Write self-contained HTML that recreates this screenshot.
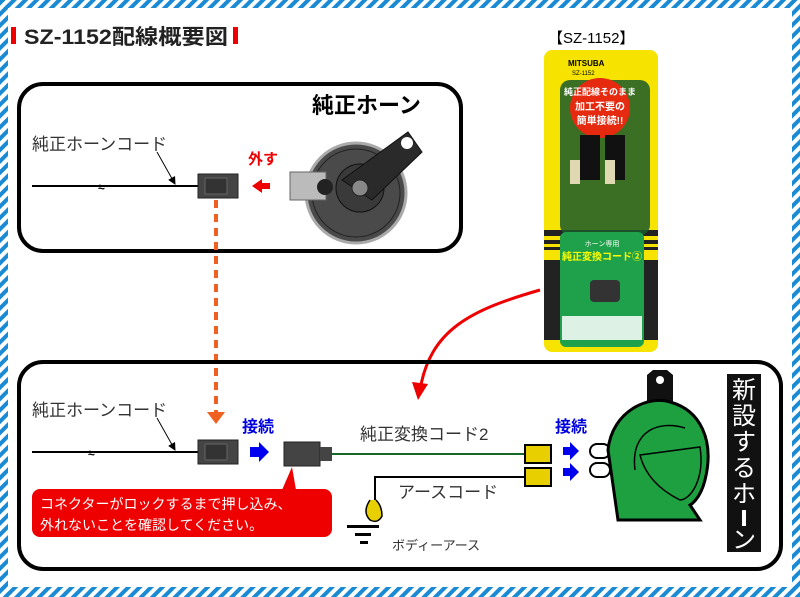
<!DOCTYPE html>
<html><head><meta charset="utf-8"><style>
html,body{margin:0;padding:0;width:800px;height:597px;overflow:hidden;background:#fff}
svg{display:block}
text{font-family:"Liberation Sans","Noto Sans CJK JP",sans-serif}
</style></head><body>
<svg width="800" height="597" viewBox="0 0 800 597" xmlns="http://www.w3.org/2000/svg">
<defs>
<pattern id="st" width="8" height="8" patternUnits="userSpaceOnUse" patternTransform="rotate(45)">
<rect width="4" height="8" fill="#1a8ad4"/></pattern>
<marker id="ar" markerWidth="8" markerHeight="8" refX="7" refY="4" orient="auto" markerUnits="userSpaceOnUse"><path d="M0,0 L8,4 L0,8z" fill="#000"/></marker>
</defs>
<rect x="0" y="0" width="800" height="8" fill="url(#st)"/>
<rect x="0" y="587" width="800" height="10" fill="url(#st)"/>
<rect x="0" y="0" width="8" height="597" fill="url(#st)"/>
<rect x="792" y="0" width="8" height="597" fill="url(#st)"/>

<rect x="11" y="27" width="5" height="17" fill="#e00"/>
<text x="24" y="44" font-size="21" font-weight="bold" fill="#222" textLength="204" lengthAdjust="spacingAndGlyphs">SZ-1152配線概要図</text>
<rect x="233" y="27" width="5" height="17" fill="#e00"/>

<!-- top box -->
<rect x="19" y="84" width="442" height="167" rx="24" fill="none" stroke="#000" stroke-width="4"/>
<text x="312" y="113" font-size="22" font-weight="bold">純正ホーン</text>
<text x="32" y="150" font-size="17" fill="#333">純正ホーンコード</text>
<line x1="32" y1="186" x2="198" y2="186" stroke="#000" stroke-width="2"/>
<text x="98" y="191" font-size="12" font-weight="bold">≈</text>
<line x1="157" y1="152" x2="175" y2="184" stroke="#000" stroke-width="1" marker-end="url(#ar)"/>
<rect x="198" y="174" width="40" height="24" fill="#444" stroke="#222"/>
<rect x="205" y="178" width="22" height="16" fill="#333" stroke="#666"/>
<text x="248" y="164" font-size="15" font-weight="bold" fill="#e00">外す</text>
<path d="M252,186 l10,-7 v4 h8 v6 h-8 v4z" fill="#e00"/>
<!-- horn -->
<circle cx="356" cy="193" r="50" fill="#4a4a4a" stroke="#aaa" stroke-width="3"/>
<circle cx="356" cy="193" r="44" fill="none" stroke="#222" stroke-width="1"/>
<circle cx="360" cy="188" r="24" fill="#3a3a3a" stroke="#111"/>
<path d="M342,180 L408,132 L422,152 L372,200z" fill="#2a2a2a" stroke="#111"/>
<circle cx="407" cy="143" r="6" fill="#fff"/>
<circle cx="360" cy="188" r="8" fill="#888" stroke="#222"/>
<rect x="290" y="172" width="36" height="28" fill="#bbb" stroke="#666"/>
<circle cx="325" cy="187" r="8" fill="#222"/>

<line x1="216" y1="200" x2="216" y2="412" stroke="#f06020" stroke-width="4" stroke-dasharray="8,6"/>

<!-- product -->
<text x="548" y="43" font-size="15" fill="#000">【SZ-1152】</text>
<rect x="544" y="50" width="114" height="302" rx="8" fill="#f6e400"/>
<rect x="544" y="230" width="114" height="20" fill="#222"/>
<rect x="544" y="236" width="114" height="4" fill="#f6e400"/><rect x="544" y="244" width="114" height="3" fill="#f6e400"/>
<rect x="544" y="260" width="114" height="80" fill="#222"/>
<text x="568" y="66" font-size="8" font-weight="bold">MITSUBA</text>
<text x="572" y="75" font-size="6">SZ-1152</text>
<rect x="560" y="80" width="90" height="155" rx="10" fill="#1a5a2a" opacity="0.85"/>
<circle cx="600" cy="108" r="30" fill="#e52a10"/>
<text x="600" y="95" font-size="9" font-weight="bold" fill="#fff" text-anchor="middle">純正配線そのまま</text>
<text x="600" y="110" font-size="10" font-weight="bold" fill="#fff" text-anchor="middle">加工不要の</text>
<text x="600" y="124" font-size="10" font-weight="bold" fill="#fff" text-anchor="middle">簡単接続!!</text>
<rect x="580" y="135" width="20" height="45" fill="#111"/><rect x="605" y="135" width="20" height="45" fill="#111"/>
<rect x="570" y="160" width="10" height="24" fill="#e0d8b0"/><rect x="605" y="160" width="10" height="24" fill="#e0d8b0"/>
<rect x="560" y="232" width="84" height="115" rx="6" fill="#1fa04a"/>
<text x="602" y="246" font-size="7" fill="#fff" text-anchor="middle">ホーン専用</text>
<text x="602" y="260" font-size="10" font-weight="bold" fill="#ff0" text-anchor="middle">純正変換コード②</text>
<rect x="590" y="280" width="30" height="22" rx="4" fill="#333"/>
<rect x="562" y="316" width="80" height="24" fill="#fff" opacity="0.85"/>

<path d="M540,290 C470,310 430,330 420,390" fill="none" stroke="#e00" stroke-width="3"/>
<path d="M412,382 L418,400 L428,384z" fill="#e00"/>

<!-- bottom box -->
<rect x="19" y="362" width="762" height="207" rx="24" fill="none" stroke="#000" stroke-width="4"/>
<text x="32" y="416" font-size="17" fill="#333">純正ホーンコード</text>
<line x1="32" y1="452" x2="198" y2="452" stroke="#000" stroke-width="2"/>
<text x="88" y="457" font-size="12" font-weight="bold">≈</text>
<line x1="157" y1="418" x2="175" y2="450" stroke="#000" stroke-width="1" marker-end="url(#ar)"/>
<rect x="198" y="440" width="40" height="24" fill="#444" stroke="#222"/>
<rect x="205" y="444" width="22" height="16" fill="#333" stroke="#666"/>
<path d="M207,412 h18 l-9,12z" fill="#f06020"/>
<text x="242" y="432" font-size="16" font-weight="bold" fill="#00d">接続</text>
<path d="M250,447 h9 v-5 l10,10 l-10,10 v-5 h-9z" fill="#00e"/>
<rect x="284" y="442" width="36" height="24" fill="#444" stroke="#222"/>
<rect x="320" y="447" width="12" height="14" fill="#444"/>
<line x1="332" y1="454" x2="525" y2="454" stroke="#17662a" stroke-width="2"/>
<text x="360" y="440" font-size="17" fill="#333">純正変換コード2</text>
<path d="M525,477 H375 V500" fill="none" stroke="#000" stroke-width="2"/>
<rect x="525" y="445" width="26" height="18" fill="#e8d000" stroke="#000" stroke-width="2"/>
<rect x="525" y="468" width="26" height="18" fill="#e8d000" stroke="#000" stroke-width="2"/>
<text x="555" y="432" font-size="16" font-weight="bold" fill="#00d">接続</text>
<path d="M563,447 h7 v-5 l9,9 l-9,9 v-5 h-7z" fill="#00e"/>
<path d="M563,468 h7 v-5 l9,9 l-9,9 v-5 h-7z" fill="#00e"/>
<text x="398" y="498" font-size="17" fill="#333">アースコード</text>
<path d="M370,500 q-8,12 0,20 q8,4 12,-4 q0,-10 -6,-16" fill="#e8d000" stroke="#000" stroke-width="1.5"/>
<rect x="347" y="525" width="32" height="3" fill="#000"/>
<rect x="355" y="533" width="16" height="3" fill="#000"/>
<rect x="360" y="541" width="8" height="3" fill="#000"/>
<text x="392" y="550" font-size="13" fill="#333">ボディーアース</text>
<rect x="32" y="489" width="300" height="48" rx="8" fill="#e00"/>
<path d="M282,490 L292,467 L296,490z" fill="#e00"/>
<text x="40" y="509" font-size="14" fill="#fff">コネクターがロックするまで押し込み、</text>
<text x="40" y="530" font-size="14" fill="#fff">外れないことを確認してください。</text>
<!-- new horn -->
<path d="M647,407 V375 l6,-5 h14 l6,5 V407z" fill="#111"/>
<circle cx="660" cy="380" r="4" fill="#fff"/>
<rect x="590" y="444" width="20" height="14" rx="7" fill="#fff" stroke="#000" stroke-width="2"/>
<rect x="590" y="463" width="20" height="14" rx="7" fill="#fff" stroke="#000" stroke-width="2"/>
<path d="M618,520 L608,450 C612,410 650,395 670,402 C700,410 715,440 705,480 C700,500 690,505 690,505 L700,520z" fill="#1ea040" stroke="#000" stroke-width="3"/>
<path d="M640,455 L700,447 C705,480 690,500 680,500 C660,490 645,475 640,455z" fill="none" stroke="#000" stroke-width="1.5"/>
<path d="M635,470 C630,430 660,420 685,428" fill="none" stroke="#000" stroke-width="1.5"/>
<rect x="727" y="374" width="34" height="178" fill="#111"/>
<text x="744" y="398" font-size="24" fill="#fff" text-anchor="middle">新</text>
<text x="744" y="424" font-size="24" fill="#fff" text-anchor="middle">設</text>
<text x="744" y="450" font-size="24" fill="#fff" text-anchor="middle">す</text>
<text x="744" y="476" font-size="24" fill="#fff" text-anchor="middle">る</text>
<text x="744" y="502" font-size="24" fill="#fff" text-anchor="middle">ホ</text>
<rect x="742" y="510" width="4" height="16" fill="#fff"/>
<text x="744" y="548" font-size="24" fill="#fff" text-anchor="middle">ン</text>
</svg>
</body></html>
